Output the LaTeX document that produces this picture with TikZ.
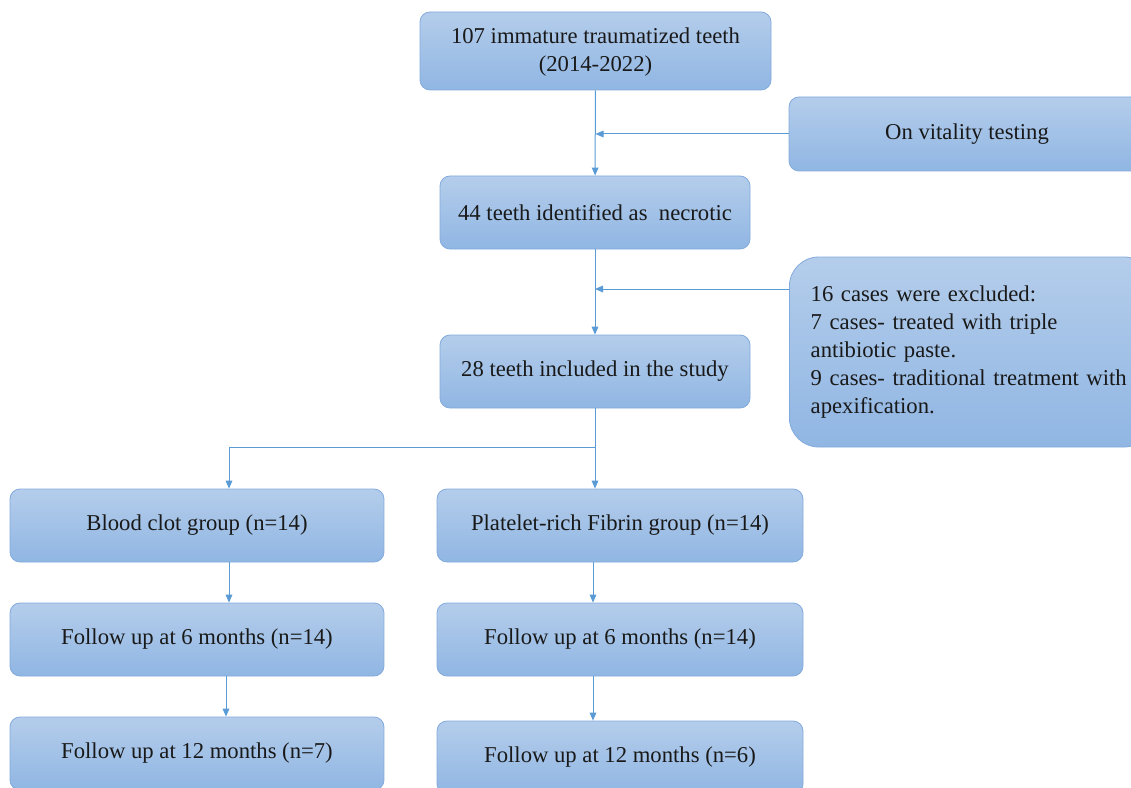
\documentclass[tikz,border=0pt]{standalone}
\usepackage{fontspec}
\setmainfont{Liberation Serif}
\usetikzlibrary{arrows.meta,shadings}
\definecolor{boxtop}{RGB}{180,205,235}
\definecolor{boxbot}{RGB}{144,182,227}
\definecolor{boxline}{RGB}{130,170,220}
\definecolor{flowline}{RGB}{91,155,213}
\tikzset{
  stagebox/.style={rounded corners=7.5pt, draw=boxline, line width=0.6pt, top color=boxtop, bottom color=boxbot,
    inner sep=0pt, align=center, font=\fontsize{17}{21}\selectfont, text=black!90},
  flow/.style={draw=flowline, line width=0.75pt, -{Triangle[length=6pt,width=5pt]}},
}
\begin{document}
\begin{tikzpicture}[x=0.75pt,y=0.75pt,yscale=-1,xscale=1]
        \useasboundingbox (0,0) rectangle (1131,788);
        %Shape: Rounded Rect [id:top]
        \node [stagebox, minimum width=263.25pt, minimum height=58.5pt] (total) at (595.5,51) {\rule{0pt}{14pt}107 immature traumatized teeth\\(2014-2022)};
        %Shape: Rounded Rect [id:vitality]
        \node [stagebox, minimum width=267pt, minimum height=55.5pt] (vital) at (967,134) {On vitality testing};
        %Shape: Rounded Rect [id:necrotic]
        \node [stagebox, minimum width=232.5pt, minimum height=54.75pt] (necro) at (595,212.5) {44 teeth identified as\ \ necrotic};
        %Shape: Rounded Rect [id:excluded]
        \node [stagebox, rounded corners=22pt, anchor=west, minimum height=142.5pt, text width=241pt, inner xsep=16pt, align=left,
          font=\fontsize{17}{21}\selectfont] (excl) at (789,352) {16 cases were excluded:\\7 cases- treated with triple\\antibiotic paste.\\9 cases- traditional treatment with\\apexification.};
        %Shape: Rounded Rect [id:included]
        \node [stagebox, minimum width=232.5pt, minimum height=54.75pt] (incl) at (595,371.5) {28 teeth included in the study};
        %Shape: Rounded Rect [id:groups]
        \node [stagebox, minimum width=280.5pt, minimum height=54.75pt] (clot) at (197,525.5) {Blood clot group (n=14)};
        \node [stagebox, minimum width=274.5pt, minimum height=54.75pt] (prf) at (620,525.5) {Platelet-rich\ Fibrin group (n=14)};
        %Shape: Rounded Rect [id:six]
        \node [stagebox, minimum width=280.5pt, minimum height=54.75pt] (clotsix) at (197,639.5) {Follow up at 6 months\ (n=14)};
        \node [stagebox, minimum width=274.5pt, minimum height=54.75pt] (prfsix) at (620,639.5) {Follow up at 6 months\ (n=14)};
        %Shape: Rounded Rect [id:twelve]
        \node [stagebox, minimum width=280.5pt, minimum height=54.75pt] (clottwelve) at (197,753.5) {Follow up at 12 months\ (n=7)};
        \node [stagebox, minimum width=274.5pt, minimum height=54.75pt] (prftwelve) at (620,757.5) {Follow up at 12 months\ (n=6)};

        %Straight Lines [id:main]
        \draw [flow] (total) -- (necro);
        \draw [flow] (vital.west) -- (vital.west -| total.south);
        \draw [flow] (necro) -- (incl);
        \draw [flow] ([yshift=-47.25pt]excl.west) -- ([yshift=-47.25pt]excl.west -| necro.south);
        %Straight Lines [id:split]
        \coordinate (split) at (595,447);
        \draw [draw=flowline, line width=0.75pt] (incl.south) -- (split);
        \draw [flow] (split) -| ([xshift=24pt]clot.north);
        \draw [flow] (split) -- (split |- prf.north);
        %Straight Lines [id:left]
        \draw [flow] ([xshift=24pt]clot.south) -- ([xshift=24pt]clotsix.north);
        \draw [flow] ([xshift=21.75pt]clotsix.south) -- ([xshift=21.75pt]clottwelve.north);
        %Straight Lines [id:right]
        \draw [flow] ([xshift=-20.25pt]prf.south) -- ([xshift=-20.25pt]prfsix.north);
        \draw [flow] ([xshift=-20.25pt]prfsix.south) -- ([xshift=-20.25pt]prftwelve.north);
    \end{tikzpicture}
\end{document}
